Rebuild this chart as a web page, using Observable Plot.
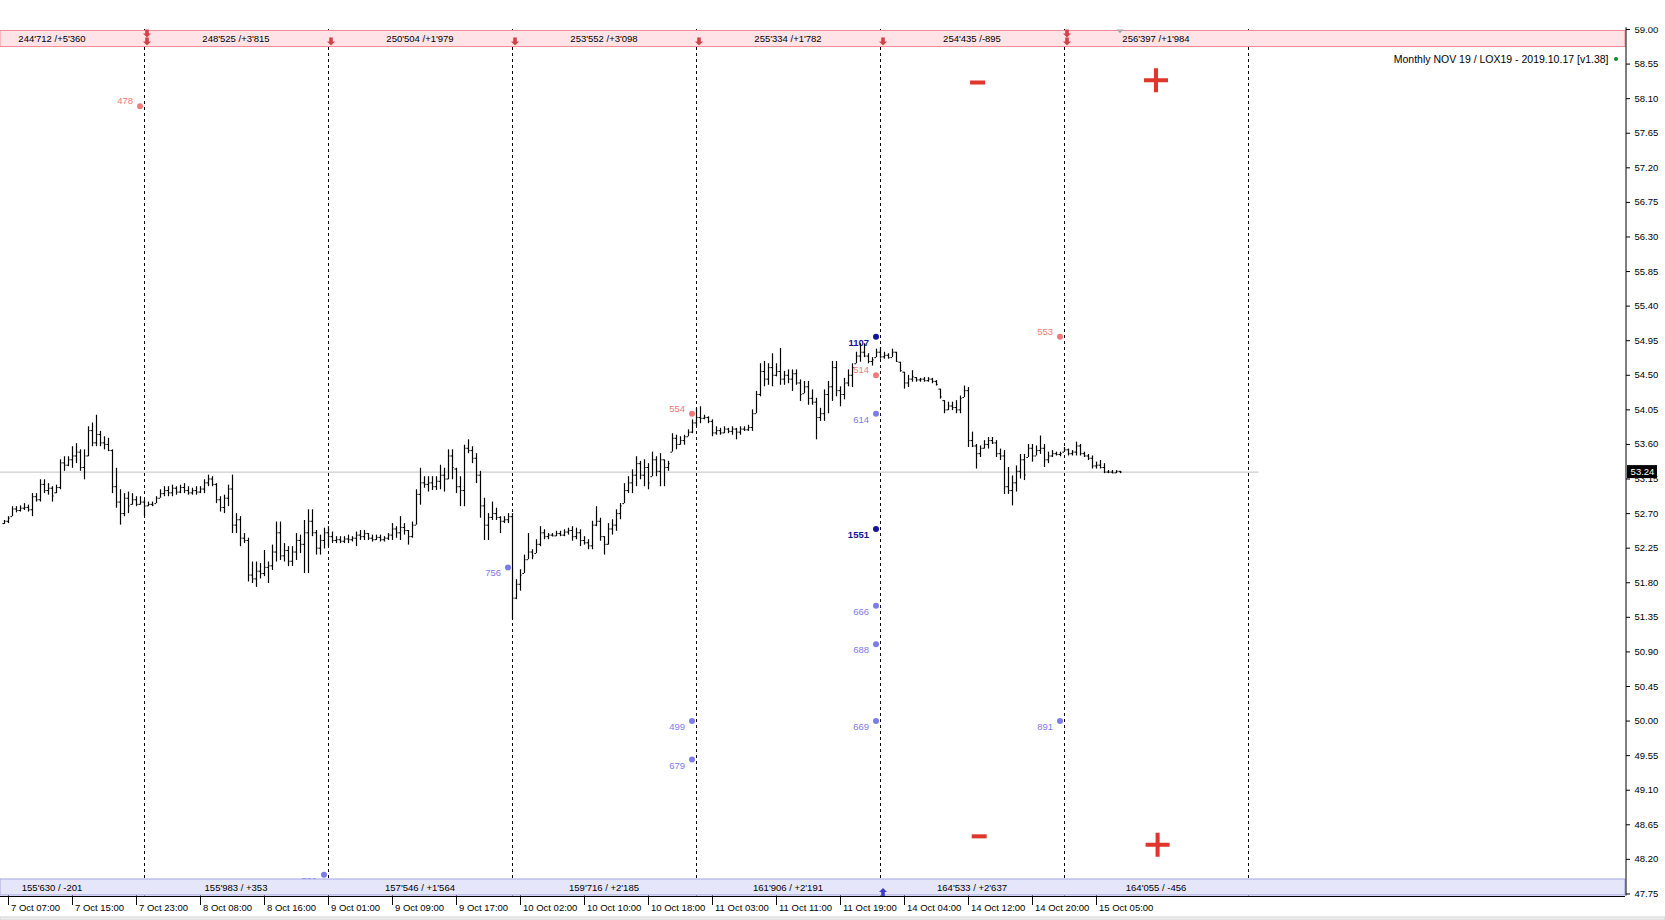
<!DOCTYPE html>
<html><head><meta charset="utf-8">
<script src="https://cdn.jsdelivr.net/npm/d3@7"></script>
<script src="https://cdn.jsdelivr.net/npm/@observablehq/plot@0.6"></script>
<style>
html,body{margin:0;padding:0;background:#fff;}
#chart svg{display:block;}
</style>
</head><body><div id="chart"></div>
<script>
// ---------- DATA (30-minute bars, index 0 = 7 Oct 07:00) ----------
const firstBar = -1;
const opens = [
52.57,52.60,52.66,52.76,52.74,52.77,52.78,52.75,52.92,52.88,
53.08,53.00,53.03,52.97,53.04,53.36,53.33,53.40,53.45,53.50,
53.30,53.45,53.78,53.62,53.73,53.62,53.60,53.52,53.05,52.85,
52.70,52.90,52.82,52.88,52.82,52.85,52.80,52.82,52.83,52.90,
52.96,53.00,52.97,53.03,52.98,53.04,53.00,52.97,53.00,52.98,
53.02,53.10,53.15,53.08,52.88,52.78,52.90,53.02,52.55,52.62,
52.38,52.35,51.90,51.85,51.95,51.92,52.00,52.02,52.20,52.45,
52.15,52.22,52.08,52.20,52.35,52.30,52.45,52.60,52.45,52.25,
52.35,52.45,52.40,52.35,52.36,52.34,52.37,52.36,52.38,52.42,
52.40,52.44,52.38,52.36,52.39,52.36,52.38,52.42,52.50,52.45,
52.52,52.48,52.40,52.55,52.95,53.10,53.08,53.10,53.05,53.12,
53.20,53.15,53.45,53.28,53.05,53.00,53.55,53.52,53.42,53.20,
52.80,52.55,52.65,52.70,52.65,52.60,52.62,52.66,51.60,51.78,
51.92,52.10,52.20,52.18,52.30,52.45,52.40,52.42,52.41,52.44,
52.42,52.46,52.48,52.40,52.45,52.35,52.32,52.28,52.55,52.60,
52.40,52.30,52.50,52.55,52.70,52.83,53.00,53.10,53.20,53.35,
53.20,53.30,53.18,53.40,53.25,53.40,53.30,53.50,53.68,53.60,
53.65,53.70,53.76,53.88,53.95,53.94,53.95,53.90,53.75,53.78,
53.75,53.80,53.77,53.80,53.76,53.80,53.79,53.82,54.00,54.25,
54.55,54.45,54.60,54.50,54.55,54.45,54.50,54.45,54.52,54.40,
54.26,54.35,54.20,54.15,53.95,54.00,54.25,54.35,54.60,54.30,
54.25,54.40,54.50,54.65,54.75,54.80,54.75,54.68,54.73,54.80,
54.74,54.76,54.73,54.80,54.67,54.54,54.40,54.45,54.47,54.44,
54.45,54.43,54.45,54.42,54.32,54.17,54.05,54.10,54.08,54.05,
54.21,54.30,53.65,53.58,53.48,53.55,53.60,53.65,53.62,53.48,
53.45,53.05,53.00,53.10,53.25,53.40,53.43,53.55,53.45,53.52,
53.55,53.40,53.45,53.48,53.47,53.50,53.53,53.48,53.50,53.58,
53.48,53.45,53.42,53.32,53.33,53.30,53.24,53.24,53.23,53.25];
const highs = [
52.61,52.66,52.79,52.79,52.80,52.83,52.81,52.96,52.96,53.14,
53.14,53.09,53.05,53.07,53.40,53.44,53.44,53.57,53.61,53.53,
53.53,53.83,53.88,53.98,53.77,53.70,53.68,53.53,53.29,53.01,
52.96,52.98,52.96,52.92,52.92,52.88,52.85,52.85,52.92,53.01,
53.05,53.05,53.07,53.05,53.07,53.09,53.05,53.03,53.05,53.05,
53.14,53.20,53.18,53.09,52.92,52.94,53.07,53.20,52.70,52.66,
52.44,52.38,52.07,52.07,52.05,52.22,52.07,52.29,52.59,52.59,
52.31,52.27,52.27,52.44,52.42,52.61,52.75,52.75,52.48,52.42,
52.51,52.53,52.46,52.40,52.40,52.40,52.42,52.40,52.46,52.48,
52.48,52.44,52.42,52.42,52.42,52.40,52.44,52.57,52.53,52.66,
52.57,52.48,52.59,53.01,53.29,53.18,53.18,53.18,53.18,53.33,
53.29,53.53,53.53,53.29,53.18,53.59,53.66,53.57,53.48,53.25,
52.90,52.70,52.85,52.77,52.66,52.66,52.70,52.70,51.84,51.97,
52.16,52.44,52.23,52.36,52.53,52.49,52.44,52.44,52.47,52.47,
52.49,52.51,52.53,52.51,52.49,52.40,52.36,52.60,52.79,52.64,
52.40,52.57,52.62,52.75,52.83,53.09,53.18,53.27,53.44,53.38,
53.40,53.35,53.50,53.44,53.48,53.40,53.38,53.74,53.72,53.70,
53.72,53.79,53.92,54.07,54.09,53.98,53.96,53.92,53.83,53.81,
53.83,53.81,53.83,53.81,53.83,53.83,53.85,54.05,54.29,54.65,
54.68,54.65,54.78,54.65,54.85,54.55,54.57,54.57,54.57,54.44,
54.42,54.42,54.31,54.20,54.07,54.31,54.42,54.68,54.68,54.35,
54.46,54.57,54.65,54.80,54.91,54.91,54.78,54.73,54.84,54.86,
54.80,54.78,54.84,54.80,54.67,54.54,54.50,54.56,54.47,54.46,
54.47,54.47,54.46,54.43,54.32,54.17,54.15,54.15,54.17,54.23,
54.36,54.34,53.76,53.60,53.58,53.65,53.69,53.69,53.65,53.54,
53.52,53.30,53.19,53.32,53.47,53.47,53.60,53.60,53.58,53.71,
53.60,53.50,53.52,53.50,53.50,53.56,53.54,53.52,53.63,53.60,
53.50,53.47,53.45,53.37,53.39,53.35,53.26,53.26,53.26,53.25];
const lows = [
52.56,52.57,52.66,52.71,52.72,52.74,52.72,52.66,52.85,52.85,
52.96,52.94,52.85,52.96,53.01,53.25,53.31,53.29,53.35,53.25,
53.14,53.44,53.57,53.57,53.57,53.53,53.51,52.96,52.77,52.55,
52.66,52.70,52.81,52.79,52.81,52.66,52.79,52.79,52.83,52.90,
52.92,52.92,52.92,52.94,52.96,52.96,52.94,52.94,52.94,52.96,
52.96,53.05,53.05,52.83,52.72,52.70,52.79,52.44,52.44,52.27,
52.31,51.81,51.79,51.74,51.85,51.88,51.79,51.96,52.07,52.09,
52.07,52.01,52.01,52.09,52.18,51.92,51.92,52.40,52.16,52.16,
52.24,52.27,52.31,52.31,52.31,52.31,52.31,52.33,52.27,52.35,
52.35,52.35,52.33,52.35,52.33,52.33,52.35,52.35,52.38,52.35,
52.42,52.29,52.38,52.55,52.81,53.03,52.98,53.00,53.00,53.01,
52.98,53.14,53.14,52.96,52.79,52.79,53.48,53.35,53.09,52.64,
52.35,52.35,52.61,52.61,52.44,52.57,52.57,51.32,51.58,51.69,
51.92,52.10,52.10,52.18,52.27,52.36,52.36,52.40,52.40,52.40,
52.40,52.42,52.34,52.36,52.27,52.29,52.23,52.23,52.53,52.34,
52.16,52.29,52.42,52.47,52.62,52.83,52.96,52.96,53.05,53.14,
53.05,53.01,53.18,53.18,53.05,53.05,53.25,53.50,53.53,53.59,
53.59,53.70,53.74,53.83,53.87,53.92,53.87,53.70,53.72,53.72,
53.74,53.74,53.72,53.66,53.72,53.77,53.77,53.77,54.00,54.22,
54.35,54.37,54.35,54.48,54.37,54.37,54.39,54.29,54.37,54.16,
54.26,54.11,54.11,53.66,53.90,53.90,54.00,54.16,54.22,54.09,
54.18,54.35,54.34,54.65,54.67,54.73,54.65,54.62,54.73,54.71,
54.71,54.71,54.73,54.67,54.54,54.32,54.34,54.41,54.41,54.41,
54.41,54.41,54.39,54.36,54.19,54.00,54.04,54.04,54.00,54.00,
54.21,53.56,53.56,53.28,53.43,53.54,53.54,53.60,53.43,53.39,
52.95,52.95,52.80,52.98,53.15,53.13,53.43,53.37,53.45,53.47,
53.30,53.35,53.43,53.45,53.44,53.50,53.45,53.45,53.45,53.45,
53.43,53.39,53.28,53.28,53.28,53.22,53.22,53.22,53.22,53.22];
const closes = [
52.60,52.64,52.76,52.74,52.77,52.78,52.75,52.92,52.88,53.08,
53.00,53.03,52.93,53.04,53.36,53.33,53.40,53.45,53.50,53.30,
53.45,53.78,53.62,53.73,53.62,53.60,53.52,53.05,52.85,52.70,
52.90,52.80,52.88,52.82,52.85,52.80,52.82,52.81,52.90,52.96,
53.00,52.97,53.03,52.98,53.04,53.00,52.97,53.00,52.98,53.02,
53.10,53.15,53.08,52.88,52.78,52.90,53.02,52.55,52.62,52.38,
52.35,51.90,51.85,51.95,51.92,52.00,52.02,52.20,52.45,52.15,
52.22,52.08,52.20,52.35,52.30,52.45,52.60,52.45,52.25,52.35,
52.45,52.40,52.35,52.36,52.34,52.37,52.36,52.38,52.42,52.40,
52.44,52.38,52.36,52.39,52.36,52.38,52.42,52.50,52.45,52.52,
52.48,52.40,52.55,52.95,53.10,53.08,53.10,53.05,53.12,53.20,
53.15,53.45,53.30,53.05,53.00,53.55,53.52,53.42,53.20,52.80,
52.55,52.65,52.70,52.65,52.60,52.62,52.66,51.60,51.78,51.90,
52.10,52.20,52.15,52.30,52.45,52.40,52.42,52.41,52.44,52.42,
52.46,52.48,52.40,52.45,52.35,52.32,52.28,52.55,52.60,52.40,
52.30,52.50,52.55,52.70,52.80,53.00,53.10,53.20,53.35,53.20,
53.30,53.10,53.40,53.25,53.40,53.30,53.35,53.68,53.60,53.65,
53.70,53.76,53.88,53.95,53.94,53.95,53.90,53.75,53.78,53.75,
53.80,53.77,53.80,53.76,53.80,53.79,53.82,54.00,54.25,54.55,
54.45,54.60,54.50,54.55,54.45,54.50,54.45,54.52,54.40,54.25,
54.35,54.20,54.15,53.95,54.00,54.25,54.35,54.60,54.30,54.25,
54.40,54.50,54.60,54.75,54.80,54.75,54.68,54.70,54.80,54.74,
54.76,54.73,54.80,54.68,54.56,54.40,54.45,54.48,54.44,54.45,
54.43,54.45,54.42,54.38,54.22,54.05,54.10,54.08,54.05,54.20,
54.30,53.65,53.58,53.48,53.55,53.60,53.65,53.62,53.48,53.45,
53.05,53.00,53.10,53.25,53.40,53.20,53.55,53.45,53.52,53.55,
53.40,53.45,53.48,53.47,53.48,53.53,53.48,53.50,53.58,53.48,
53.45,53.42,53.32,53.33,53.30,53.24,53.24,53.23,53.25,53.24];

const lastPrice = 53.24;
const priceLineEndBar = 312.75;

// day separators (first bar of each trading day) and day-centre bars
const dayStarts = [34, 80, 126, 172, 218, 264, 310];
const dayMids   = [11, 57, 103, 149, 195, 241, 287];
const callVolText = ["244'712 /+5'360","248'525 /+3'815","250'504 /+1'979","253'552 /+3'098","255'334 /+1'782","254'435 /-895","256'397 /+1'984"];
const putVolText  = ["155'630 / -201","155'983 / +353","157'546 / +1'564","159'716 / +2'185","161'906 / +2'191","164'533 / +2'637","164'055 / -456"];

// time axis
const timeTickBars = [0,16,32,48,64,80,96,112,128,144,160,176,192,208,224,240,256,272];
const timeTickLabels = ["7 Oct 07:00","7 Oct 15:00","7 Oct 23:00","8 Oct 08:00","8 Oct 16:00","9 Oct 01:00","9 Oct 09:00","9 Oct 17:00","10 Oct 02:00","10 Oct 10:00","10 Oct 18:00","11 Oct 03:00","11 Oct 11:00","11 Oct 19:00","14 Oct 04:00","14 Oct 12:00","14 Oct 20:00","15 Oct 05:00"];
// price axis
const priceTicks = [47.75,48.20,48.65,49.10,49.55,50.00,50.45,50.90,51.35,51.80,52.25,52.70,53.15,53.60,54.05,54.50,54.95,55.40,55.85,56.30,56.75,57.20,57.65,58.10,58.55,59.00];

// strike open-interest dots
const strikeDay    = [34, 80, 126, 172, 172, 172, 218, 218, 218, 218, 218, 218, 218, 264, 264];
const strikePrice  = [58.0, 48.0, 52.0, 54.0, 50.0, 49.5, 55.0, 54.5, 54.0, 52.5, 51.5, 51.0, 50.0, 55.0, 50.0];
const strikeOI     = [478, 739, 756, 554, 499, 679, 1107, 514, 614, 1551, 666, 688, 669, 553, 891];
const strikeKind   = ["call","put","put","call","put","put","max","call","put","max","put","put","put","call","put"];

// arrow markers
const topArrowDay   = [34, 80, 126, 172, 218, 264];
const topArrowCount = [2, 1, 1, 1, 1, 2];
const bottomArrowDay = [218];
const signText  = ["−", "−", "+", "+"];
const signBar   = [242.4, 242.8, 287.0, 287.4];
const signPrice = [58.31, 48.50, 58.34, 48.39];
const titleText = "Monthly NOV 19 / LOX19 - 2019.10.17 [v1.38]";

// ---------- LAYOUT ----------
const W = 1665, H = 920;
const MR = 40, MT = 29, MB = 24.5;
const X0 = -1.875, X1 = 404.375;           // bar-index domain of the chart window
const Y0 = 47.7235, Y1 = 59.0;             // price domain of the chart window
const pxPerPrice = (H - MB - MT) / (Y1 - Y0);
const yAt = p => Y1 - (p - MT) / pxPerPrice; // price at a pixel row (decorations)
const xAt = p => X0 + p * (X1 - X0) / (W - MR); // bar at a pixel column (decorations)

const bars = opens.map((o, k) => ({i: firstBar + k, o, h: highs[k], l: lows[k], c: closes[k]}));
const strikes = strikeOI.map((oi, k) => ({x: strikeDay[k] - 1, p: strikePrice[k], oi, kind: strikeKind[k]}));
const kindColor = {call: "#f07a7a", put: "#7c7ce8", max: "#12129a"};
const topArrows = topArrowDay.flatMap((d, k) => topArrowCount[k] === 2 ? [{x: d + 0.75, row: 0}, {x: d + 0.75, row: 1}] : [{x: d + 0.75, row: 1}]);

function shape(polys) {
  return {draw(ctx, size) {
    const s = Math.sqrt(size / Math.PI);
    for (const pts of polys) {
      ctx.moveTo(pts[0][0] * s, pts[0][1] * s);
      for (let k = 1; k < pts.length; k++) ctx.lineTo(pts[k][0] * s, pts[k][1] * s);
      ctx.closePath();
    }
  }};
}
const arrowDown = shape([[[-0.45,-1],[0.45,-1],[0.45,0.05],[-0.45,0.05]], [[-1,0],[1,0],[0,1]]]);
const arrowUp   = shape([[[-0.45,-0.05],[0.45,-0.05],[0.45,1],[-0.45,1]], [[0,-1],[1,0],[-1,0]]]);
const triDown   = shape([[[-1,-0.55],[1,-0.55],[0,0.55]]]);
const plusSym   = shape([[[-1,-0.17],[1,-0.17],[1,0.17],[-1,0.17]], [[-0.17,-1],[0.17,-1],[0.17,1],[-0.17,1]]]);
const minusSym  = shape([[[-1,-0.27],[1,-0.27],[1,0.27],[-1,0.27]]]);

const font = "'Liberation Sans', Arial, sans-serif";
const signs = signText.map((t, k) => ({t, x: signBar[k], p: signPrice[k]}));

const chart = Plot.plot({
  width: W, height: H,
  marginLeft: 0, marginRight: MR, marginTop: MT, marginBottom: MB,
  x: {type: "linear", domain: [X0, X1], axis: null},
  y: {type: "linear", domain: [Y0, Y1], axis: null},
  style: {fontFamily: font, fontSize: "9.5px", background: "#fff", color: "#000"},
  marks: [
    // day separators
    Plot.ruleX(dayStarts, {x: d => d, y1: () => Y1, y2: () => Y0, stroke: "#000", strokeDasharray: "3,3", dx: 0.5}),
    // current price line
    Plot.ruleY([lastPrice], {y: d => d, x1: () => X0, x2: () => priceLineEndBar, stroke: "#c0c0c0"}),
    // strike dots and labels
    Plot.dot(strikes, {x: "x", y: "p", r: 3, fill: d => kindColor[d.kind], stroke: null}),
    Plot.text(strikes.filter(d => d.kind === "call"), {x: "x", y: "p", text: d => String(d.oi), fill: d => kindColor[d.kind], textAnchor: "end", dx: -7, dy: -5}),
    Plot.text(strikes.filter(d => d.kind === "put"), {x: "x", y: "p", text: d => String(d.oi), fill: d => kindColor[d.kind], textAnchor: "end", dx: -7, dy: 6}),
    Plot.text(strikes.filter(d => d.kind === "max"), {x: "x", y: "p", text: d => String(d.oi), fill: d => kindColor[d.kind], textAnchor: "end", dx: -7, dy: 6, fontWeight: "bold"}),
    // OHLC bars
    Plot.ruleX(bars, {x: "i", y1: "l", y2: "h", stroke: "#000", strokeWidth: 1.2, dx: 0.5}),
    Plot.ruleY(bars, {y: "o", x1: d => d.i - 0.4, x2: "i", stroke: "#000", dx: 0.5}),
    Plot.ruleY(bars, {y: "c", x1: "i", x2: d => d.i + 0.4, stroke: "#000", dx: 0.5}),
    // top (call) band
    Plot.rect([0], {x1: () => X0, x2: () => X1, y1: () => yAt(30.5), y2: () => yAt(46.5), fill: "#ffe3e6", stroke: "#ef8f95"}),
    Plot.text(callVolText, {x: (d, k) => dayMids[k], y: () => yAt(38.5), text: d => d, fill: "#000"}),
    // bottom (put) band
    Plot.rect([0], {x1: () => X0, x2: () => X1, y1: () => yAt(879), y2: () => yAt(895), fill: "#e6e6fa", stroke: "#a3a3e8"}),
    Plot.text(putVolText, {x: (d, k) => dayMids[k], y: () => yAt(887.5), text: d => d, fill: "#000"}),
    // arrows
    Plot.dot(topArrows, {x: "x", y: d => yAt(d.row === 0 ? 33 : 41), r: 4, symbol: arrowDown, fill: "#d6404a", stroke: null}),
    Plot.dot(bottomArrowDay, {x: d => d + 0.75, y: () => yAt(891.5), r: 4, symbol: arrowUp, fill: "#3b3bd0", stroke: null}),
    Plot.dot([bars[bars.length - 1]], {x: "i", y: () => yAt(30.8), r: 3.5, symbol: triDown, fill: "#a8a8a8", stroke: null}),
    // plus / minus signs
    Plot.dot(signs.filter(d => d.t === "+"), {x: "x", y: "p", r: 12, symbol: plusSym, fill: "#e0372d", stroke: null}),
    Plot.dot(signs.filter(d => d.t !== "+"), {x: "x", y: "p", r: 7.5, symbol: minusSym, fill: "#e0372d", stroke: null}),
    // title
    Plot.text([titleText], {x: () => xAt(1608), y: () => yAt(59), text: d => d, textAnchor: "end", fontSize: 10.5, fill: "#000"}),
    Plot.dot([0], {x: () => xAt(1615.5), y: () => yAt(58.5), r: 2, fill: "#0a8a2a", stroke: null}),
    // time axis
    Plot.ruleY([Y0], {y: d => d, x1: () => X0, x2: () => X1, stroke: "#000", dy: 0.5}),
    Plot.ruleX(timeTickBars, {x: d => d, y1: () => Y0, y2: () => yAt(905), stroke: "#000", dx: 0.5}),
    Plot.text(timeTickLabels, {x: (d, k) => timeTickBars[k], y: () => yAt(907), text: d => d, textAnchor: "start", dx: 3, fontSize: 9.5, fill: "#000"}),
    // price axis
    Plot.ruleX([X1], {x: d => d, y1: () => yAt(27), y2: () => Y0, stroke: "#000", dx: 0.5}),
    Plot.axisY(priceTicks, {anchor: "right", tickSize: 4, tickPadding: 5, tickFormat: d => d.toFixed(2), fontSize: 9.5, stroke: "#000", fill: "#000"}),
    // last price box
    Plot.rect([lastPrice], {x1: () => xAt(1627), x2: () => xAt(1657), y1: d => d - 6.5 / pxPerPrice, y2: d => d + 6.5 / pxPerPrice, fill: "#000"}),
    Plot.text([lastPrice], {x: () => xAt(1642), y: d => d, text: d => d.toFixed(2), fill: "#fff", fontSize: 9.5}),
    // window edges
    Plot.rect([0], {x1: () => xAt(0), x2: () => xAt(W), y1: () => yAt(0), y2: () => yAt(27.3), fill: "#fff"}),
    Plot.rect([0], {x1: () => xAt(0), x2: () => xAt(W), y1: () => yAt(917), y2: () => yAt(920), fill: "#f0f0f0", stroke: "#d4d4d4"})
  ]
});
document.getElementById("chart").appendChild(chart);
</script>
</body></html>
